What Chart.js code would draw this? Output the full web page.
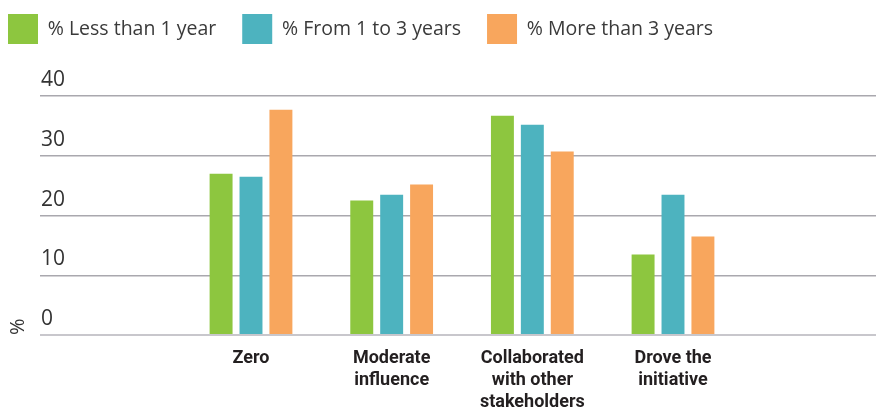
<!DOCTYPE html>
<html><head><meta charset="utf-8">
<script src="https://cdn.jsdelivr.net/npm/chart.js@4"></script>
<style>html,body{margin:0;padding:0;background:#fff;overflow:hidden;} #wrap{width:884px;height:415px;}</style>
</head><body><div id="wrap"><canvas id="c"></canvas></div>
<script>
const categories = ['', ['Zero'], ['Moderate', 'influence'], ['Collaborated', 'with other', 'stakeholders'], ['Drove the', 'initiative'], ''];
const seriesNames = ['% Less than 1 year', '% From 1 to 3 years', '% More than 3 years'];
const lessThan1Year = [null, 27.0, 22.5, 36.7, 13.5, null];
const from1To3Years = [null, 26.5, 23.5, 35.2, 23.5, null];
const moreThan3Years = [null, 37.7, 25.2, 30.7, 16.5, null];
const yTicks = [0, 10, 20, 30, 40];
const colors = ['#8dc63f', '#4db3bf', '#f8a65d'];

const legendMargin = {
  id: 'legendMargin',
  beforeInit(chart) {
    const fit = chart.legend.fit;
    chart.legend.fit = function () { fit.call(this); this.height += 42; };
  }
};

new Chart(document.getElementById('c'), {
  type: 'bar',
  data: {
    labels: categories,
    datasets: [lessThan1Year, from1To3Years, moreThan3Years].map((d, i) => ({
      label: seriesNames[i], data: d, backgroundColor: colors[i], borderWidth: 0,
      categoryPercentage: 0.638, barPercentage: 0.767
    }))
  },
  options: {
    responsive: true, maintainAspectRatio: false, animation: false,
    layout: { padding: { left: -18, top: -12, right: 0, bottom: -10 } },
    plugins: {
      tooltip: { enabled: false },
      legend: {
        position: 'top', align: 'start',
        labels: { boxWidth: 30, boxHeight: 30, padding: 26, color: '#3a3a3a',
          font: { family: 'Open Sans', size: 19.5 } }
      }
    },
    scales: {
      x: {
        grid: { display: false, drawTicks: false }, border: { display: false },
        ticks: { color: '#231f20', autoSkip: false, maxRotation: 0, padding: 12,
          font: { family: "'Liberation Sans Narrow', Roboto, sans-serif", size: 18, weight: 'bold', lineHeight: 1.22 } }
      },
      y: {
        min: 0, max: 40,
        afterBuildTicks: s => { s.ticks = yTicks.map(v => ({ value: v })); },
        border: { display: false },
        grid: {
          drawTicks: false,
          color: c => (c.tick && c.tick.value === 0) ? '#c8c7cc' : '#a9a8ae',
          lineWidth: c => (c.tick && c.tick.value === 0) ? 2 : 1.5
        },
        ticks: { mirror: true, padding: 1, labelOffset: -16, color: '#333',
          font: { family: 'Open Sans', size: 21 } },
        title: { display: true, text: '%', align: 'start', color: '#333',
          font: { family: 'Open Sans', size: 20, lineHeight: 1.2 }, padding: { top: 24, bottom: 8 } }
      }
    }
  },
  plugins: [legendMargin]
});
</script>
</body></html>
